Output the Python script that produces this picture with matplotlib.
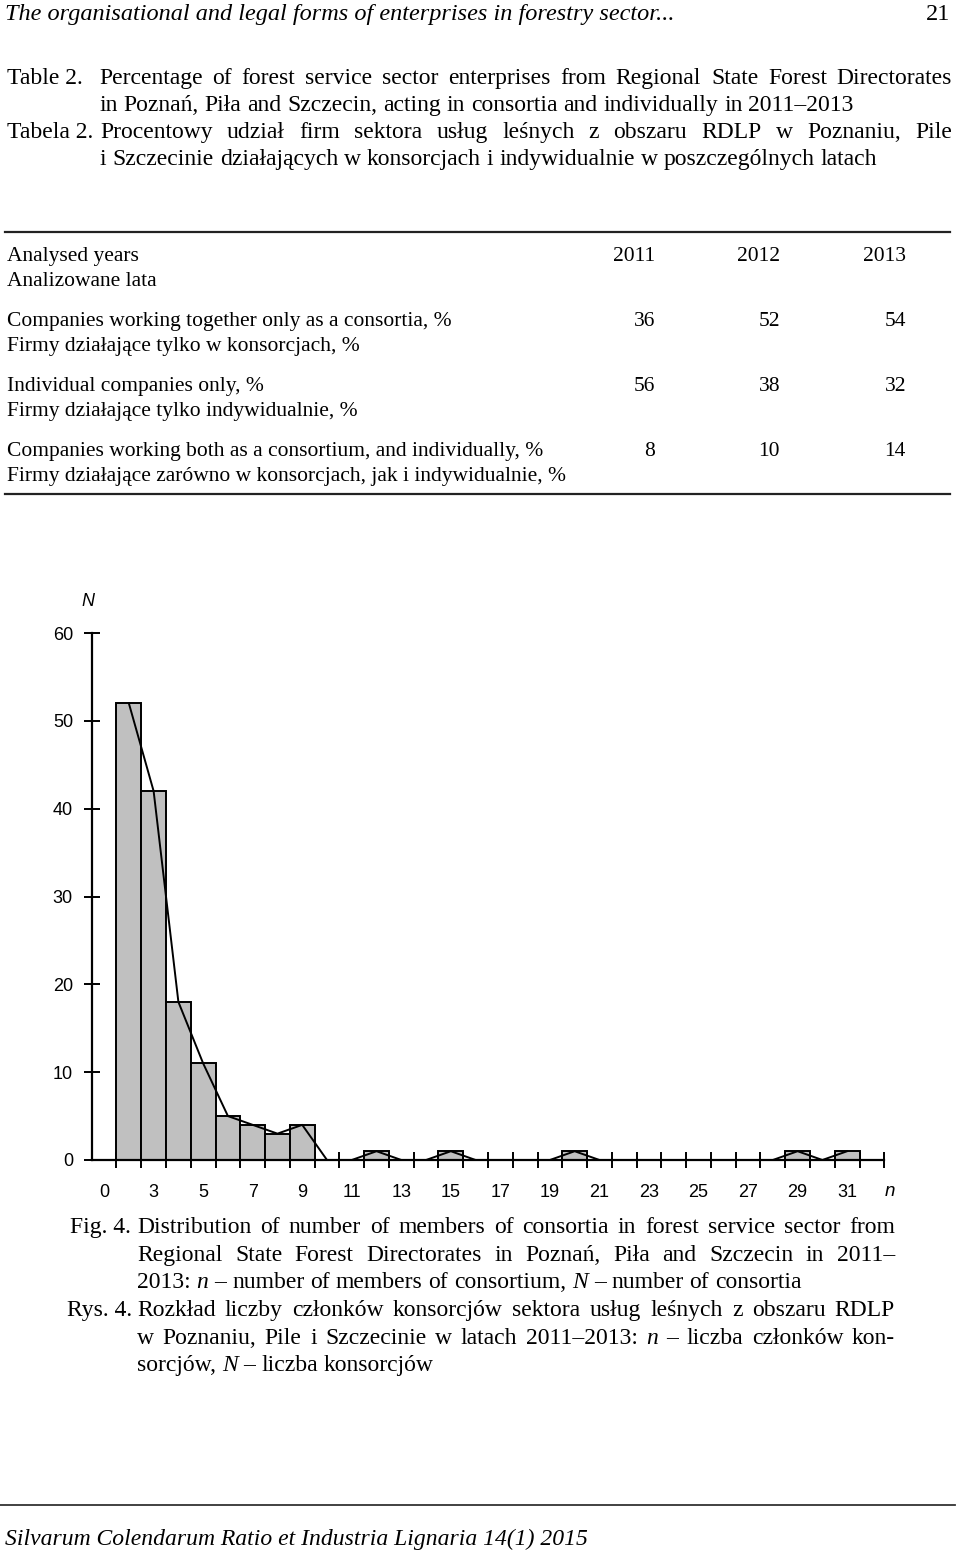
import matplotlib
matplotlib.use("Agg")
import matplotlib.pyplot as plt
import numpy as np

W, H = 960, 1556

# histogram data: n = members of consortium, N = number of consortia
n_members = list(range(2, 32))
consortia = [52, 42, 18, 11, 5, 4, 3, 4, 0, 0,
             1, 0, 0, 1, 0, 0, 0, 0, 1, 0,
             0, 0, 0, 0, 0, 0, 0, 1, 0, 1]
axis_categories = [0] + n_members + [32]

# table data
years = ["2011", "2012", "2013"]
row_labels = [
    ("Companies working together only as a consortia, %",
     "Firmy działające tylko w konsorcjach, %"),
    ("Individual companies only, %",
     "Firmy działające tylko indywidualnie, %"),
    ("Companies working both as a consortium, and individually, %",
     "Firmy działające zarówno w konsorcjach, jak i indywidualnie, %"),
]
together = [36, 52, 54]
individual = [56, 38, 32]
both = [8, 10, 14]

SERIF = "Liberation Serif"
SANS = "Liberation Sans"

fig = plt.figure(figsize=(W / 100, H / 100), dpi=100)


def px(x, y):
    return x / W, 1 - y / H


def put(x, y, s, size=14, ha="left", style="normal", family=SERIF):
    # y is the visual middle of the line; place on a common baseline
    base = y + size * 100 / 72 * 0.3
    return fig.text(*px(x, base), s, fontsize=size, ha=ha, va="baseline",
                    style=style, family=family)


def words_line(x0, y, line, size, x1=None):
    # words wrapped in * are italic; if x1 is given the line is justified
    parts = line.split(" ")
    texts = []
    for w in parts:
        it = len(w) > 2 and w.startswith("*") and w.endswith("*")
        texts.append(put(0, y, w.strip("*") if it else w, size,
                         style="italic" if it else "normal"))
    r = fig.canvas.get_renderer()
    widths = [t.get_window_extent(r).width for t in texts]
    if x1 is None or len(parts) < 2:
        gap = size * 100 / 72 * 0.25
    else:
        gap = (x1 - x0 - sum(widths)) / (len(parts) - 1)
    base = y + size * 100 / 72 * 0.3
    x = x0
    for t, w in zip(texts, widths):
        t.set_position(px(x, base))
        x += w + gap


# running header
put(5, 13, "The organisational and legal forms of enterprises in forestry sector...",
    17.5, style="italic")
put(950, 13, "21", 17.5, ha="right")

# table caption
cap = 17
put(7, 77, "Table 2.", cap)
words_line(99, 77, "Percentage of forest service sector enterprises from Regional State Forest Directorates", cap, 952)
words_line(99, 104, "in Poznań, Piła and Szczecin, acting in consortia and individually in 2011–2013", cap)
put(7, 131, "Tabela 2.", cap)
words_line(100, 131, "Procentowy udział firm sektora usług leśnych z obszaru RDLP w Poznaniu, Pile", cap, 952)
words_line(100, 158, "i Szczecinie działających w konsorcjach i indywidualnie w poszczególnych latach", cap)

# table
tb = 15.5
fig.add_artist(plt.Line2D([5 / W, 950 / W], [1 - 232 / H] * 2, color="#222222", lw=1.6))
fig.add_artist(plt.Line2D([5 / W, 950 / W], [1 - 494 / H] * 2, color="#222222", lw=1.6))
put(7, 255, "Analysed years", tb)
put(7, 280, "Analizowane lata", tb)
col_x = [655, 780, 906]
for cx, yr in zip(col_x, years):
    put(cx, 255, yr, tb, ha="right")
row_y = [320, 385, 450]
for (en, pl), ry, vals in zip(row_labels, row_y, [together, individual, both]):
    put(7, ry, en, tb)
    put(7, ry + 25, pl, tb)
    for cx, v in zip(col_x, vals):
        put(cx, ry, str(v), tb, ha="right")

# chart
ax = fig.add_axes([91.7 / W, 1 - 1160 / H, (884.3 - 91.7) / W, (1160 - 633) / H])
slots = np.arange(1, len(n_members) + 1)
vals = np.array(consortia, dtype=float)
nz = vals > 0
ax.bar(slots[nz], vals[nz], width=1.0, color="#c0c0c0", edgecolor="black",
       linewidth=1.4, zorder=2)
ax.plot(slots, vals, color="black", lw=1.4, zorder=3, solid_joinstyle="round")

ax.set_xlim(-0.5, len(axis_categories) - 0.5)
ax.set_ylim(0, 60)
for s in ["top", "right"]:
    ax.spines[s].set_visible(False)
for s in ["left", "bottom"]:
    ax.spines[s].set_linewidth(1.6)
    ax.spines[s].set_zorder(4)

lab_pos = np.arange(0, len(axis_categories), 2)
ax.set_xticks(lab_pos)
ax.set_xticklabels([str(axis_categories[i]) for i in lab_pos], family=SANS, fontsize=13)
ax.set_xticks(np.arange(0.5, len(axis_categories), 1), minor=True)
ax.tick_params(axis="x", which="major", length=0, pad=17)
ax.tick_params(axis="x", which="minor", direction="inout", length=11, width=1.4)
ax.set_yticks(range(0, 61, 10))
ax.set_yticklabels([str(v) for v in range(0, 61, 10)], family=SANS, fontsize=13)
ax.tick_params(axis="y", direction="inout", length=11, width=1.4, pad=8)

put(88, 601, "N", 13, ha="center", style="italic", family=SANS)
put(890, 1190, "n", 13.5, ha="center", style="italic", family=SANS)

# figure caption
fc = 17
put(70, 1226, "Fig. 4.", fc)
words_line(137, 1226, "Distribution of number of members of consortia in forest service sector from", fc, 895)
words_line(137, 1254, "Regional State Forest Directorates in Poznań, Piła and Szczecin in 2011–", fc, 895)
words_line(137, 1281, "2013: *n* – number of members of consortium, *N* – number of consortia", fc)
put(67, 1309, "Rys. 4.", fc)
words_line(137, 1309, "Rozkład liczby członków konsorcjów sektora usług leśnych z obszaru RDLP", fc, 895)
words_line(137, 1337, "w Poznaniu, Pile i Szczecinie w latach 2011–2013: *n* – liczba członków kon-", fc, 895)
words_line(137, 1364, "sorcjów, *N* – liczba konsorcjów", fc)

# footer
fig.add_artist(plt.Line2D([0, 955 / W], [1 - 1505 / H] * 2, color="#333333", lw=1.3))
put(5, 1538, "Silvarum Colendarum Ratio et Industria Lignaria 14(1) 2015", 17, style="italic")

fig.savefig("out.png", dpi=100)
